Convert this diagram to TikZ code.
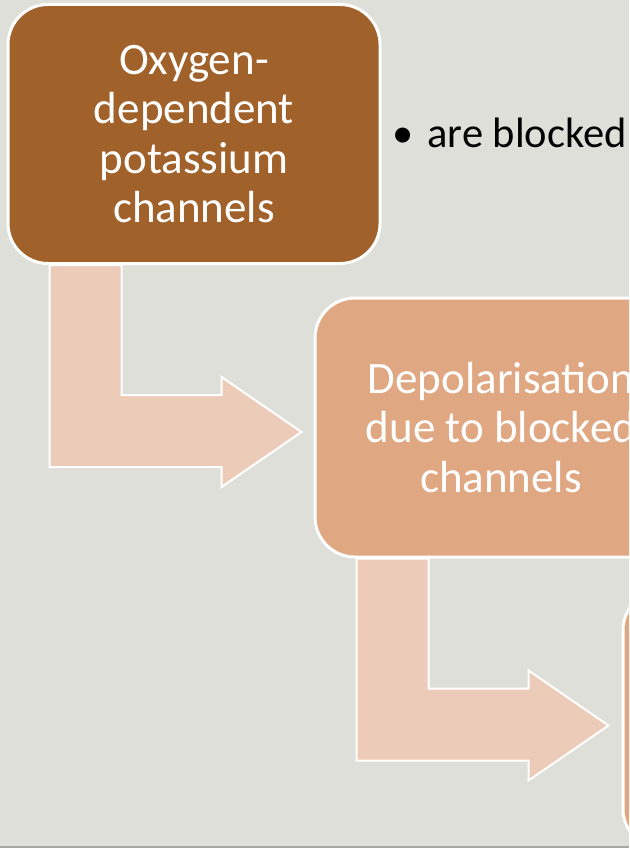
\documentclass[tikz,border=0pt]{standalone}
\usepackage{fontspec}
\setmainfont{Carlito}
\usepackage{tikz}
\usetikzlibrary{calc}
\definecolor{slidegrey}{RGB}{223,223,217}
\definecolor{channelbrown}{RGB}{160,97,42}
\definecolor{depolorange}{RGB}{224,168,130}
\definecolor{arrowpink}{RGB}{237,203,185}
\definecolor{edgegrey}{RGB}{166,166,166}

\begin{document}
\begin{tikzpicture}[
  x=1pt, y=-1pt,
  stepbox/.style={draw=white, line width=3pt, rounded corners=40pt, minimum width=372pt, minimum height=259pt, align=center, text=white, font=\fontsize{45}{49.5}\selectfont},
  bentarrow/.style={draw=white, line width=2pt, fill=arrowpink, line join=miter},
  bullettext/.style={font=\fontsize{42.5}{50}\selectfont, anchor=base west, inner sep=0pt}
]
\clip (0,0) rectangle (629,848);
\fill[slidegrey] (0,0) rectangle (629,848);
\draw[edgegrey, line width=1.5pt] (0,847.2) -- (629,847.2);

\node[stepbox, fill=channelbrown] (channels) at (194,134) {Oxygen-\\dependent\\potassium\\channels};
\node[stepbox, fill=depolorange] (depol) at (501,427.5) {Depolarisation\\due to blocked\\channels};
\node[stepbox, fill=depolorange] (nextstep) at (809,719.5) {};

\node[bullettext] (blocked) at (392,147) {\textbullet\hspace{0.33em}are blocked};

% bent arrows between the steps
\draw[bentarrow] ($(channels.south west)+(43,0)$) -- ++(0,202) -- ++(172,0) -- ++(0,20)
  -- ++(80,-55) -- ++(-80,-55) -- ++(0,18) -- ++(-100,0)
  -- ($(channels.south west)+(115,0)$) -- cycle;
\draw[bentarrow] ($(depol.south west)+(43,0)$) -- ++(0,202) -- ++(172,0) -- ++(0,20)
  -- ++(80,-55) -- ++(-80,-55) -- ++(0,18) -- ++(-100,0)
  -- ($(depol.south west)+(115,0)$) -- cycle;
\end{tikzpicture}
\end{document}
